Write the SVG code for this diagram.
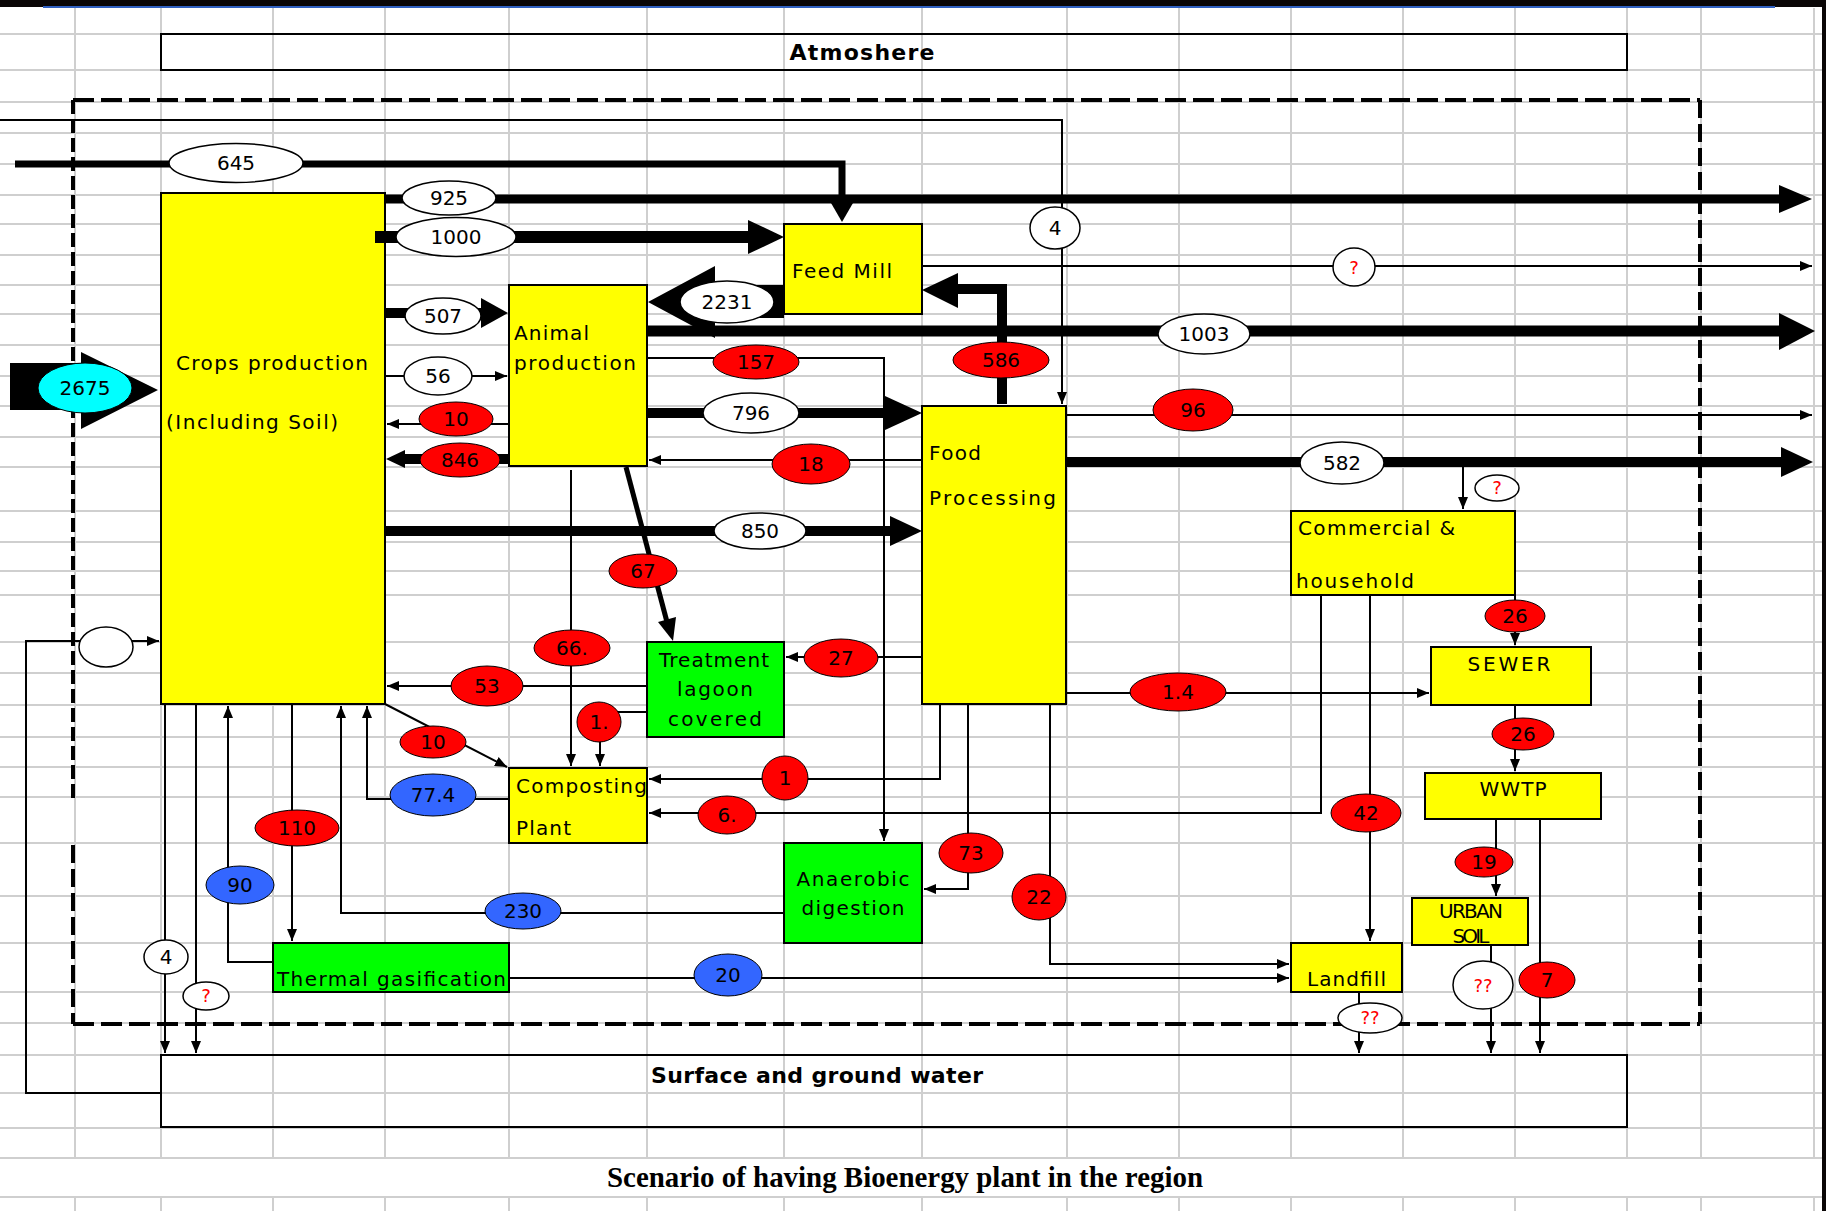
<svg xmlns="http://www.w3.org/2000/svg" width="1826" height="1211" viewBox="0 0 1826 1211">
  <style>
    .grid line { stroke: #cfcfcf; stroke-width: 2; }
    .box { stroke: #000; stroke-width: 2; }
    .y { fill: #ffff00; }
    .g { fill: #00ff00; }
    .frame { fill: none; stroke: #000; stroke-width: 2; }
    .t { font-family: "DejaVu Sans", "Liberation Sans", sans-serif; font-size: 20px; fill: #000; }
    .tb { font-family: "DejaVu Sans", "Liberation Sans", sans-serif; font-size: 22px; font-weight: bold; fill: #000; }
    .c { text-anchor: middle; }
    .ln { fill: none; stroke: #000; stroke-width: 2; }
    .thin { marker-end: url(#ah); }
    .thick { fill: none; stroke: #000; }
    .head { fill: #000; }
    .lw { fill: #fff; stroke: #000; stroke-width: 1.5; }
    .lr { fill: #ff0000; stroke: #000; stroke-width: 1; }
    .lb { fill: #3366ff; stroke: #000; stroke-width: 1; }
    .lc { fill: #00ffff; stroke: #000; stroke-width: 1; }
    .n { font-family: "DejaVu Sans", "Liberation Sans", sans-serif; font-size: 20px; fill: #000; text-anchor: middle; }
    .q { fill: #ff0000; font-size: 18px; }
    .dash { fill: none; stroke: #000; stroke-width: 4; }
  </style>
  <defs>
    <marker id="ah" markerUnits="userSpaceOnUse" markerWidth="12" markerHeight="10" refX="12" refY="5" orient="auto">
      <path d="M0,0 L12,5 L0,10 z" fill="#000"/>
    </marker>
  </defs>

  <!-- page background and worksheet grid -->
  <rect x="0" y="0" width="1826" height="1211" fill="#fff"/>
  <g class="grid">
    <line x1="75" y1="8" x2="75" y2="1158"/><line x1="161" y1="8" x2="161" y2="1158"/>
    <line x1="273" y1="8" x2="273" y2="1158"/><line x1="385" y1="8" x2="385" y2="1158"/>
    <line x1="509" y1="8" x2="509" y2="1158"/><line x1="647" y1="8" x2="647" y2="1158"/>
    <line x1="784" y1="8" x2="784" y2="1158"/><line x1="922" y1="8" x2="922" y2="1158"/>
    <line x1="1067" y1="8" x2="1067" y2="1158"/><line x1="1179" y1="8" x2="1179" y2="1158"/>
    <line x1="1291" y1="8" x2="1291" y2="1158"/><line x1="1403" y1="8" x2="1403" y2="1158"/>
    <line x1="1515" y1="8" x2="1515" y2="1158"/><line x1="1627" y1="8" x2="1627" y2="1158"/>
    <line x1="1701" y1="8" x2="1701" y2="1158"/><line x1="1814" y1="8" x2="1814" y2="1158"/>
    <line x1="75" y1="1197" x2="75" y2="1211"/><line x1="161" y1="1197" x2="161" y2="1211"/>
    <line x1="273" y1="1197" x2="273" y2="1211"/><line x1="385" y1="1197" x2="385" y2="1211"/>
    <line x1="509" y1="1197" x2="509" y2="1211"/><line x1="647" y1="1197" x2="647" y2="1211"/>
    <line x1="784" y1="1197" x2="784" y2="1211"/><line x1="922" y1="1197" x2="922" y2="1211"/>
    <line x1="1067" y1="1197" x2="1067" y2="1211"/><line x1="1179" y1="1197" x2="1179" y2="1211"/>
    <line x1="1291" y1="1197" x2="1291" y2="1211"/><line x1="1403" y1="1197" x2="1403" y2="1211"/>
    <line x1="1515" y1="1197" x2="1515" y2="1211"/><line x1="1627" y1="1197" x2="1627" y2="1211"/>
    <line x1="1701" y1="1197" x2="1701" y2="1211"/><line x1="1814" y1="1197" x2="1814" y2="1211"/>
    <line x1="0" y1="34" x2="1826" y2="34"/><line x1="0" y1="70" x2="1826" y2="70"/>
    <line x1="0" y1="102" x2="1826" y2="102"/><line x1="0" y1="133" x2="1826" y2="133"/>
    <line x1="0" y1="164" x2="1826" y2="164"/><line x1="0" y1="195" x2="1826" y2="195"/>
    <line x1="0" y1="224" x2="1826" y2="224"/><line x1="0" y1="255" x2="1826" y2="255"/>
    <line x1="0" y1="285" x2="1826" y2="285"/><line x1="0" y1="314" x2="1826" y2="314"/>
    <line x1="0" y1="345" x2="1826" y2="345"/><line x1="0" y1="376" x2="1826" y2="376"/>
    <line x1="0" y1="406" x2="1826" y2="406"/><line x1="0" y1="437" x2="1826" y2="437"/>
    <line x1="0" y1="467" x2="1826" y2="467"/><line x1="0" y1="511" x2="1826" y2="511"/>
    <line x1="0" y1="542" x2="1826" y2="542"/><line x1="0" y1="571" x2="1826" y2="571"/>
    <line x1="0" y1="595" x2="1826" y2="595"/><line x1="0" y1="642" x2="1826" y2="642"/>
    <line x1="0" y1="673" x2="1826" y2="673"/><line x1="0" y1="705" x2="1826" y2="705"/>
    <line x1="0" y1="737" x2="1826" y2="737"/><line x1="0" y1="767" x2="1826" y2="767"/>
    <line x1="0" y1="797" x2="1826" y2="797"/><line x1="0" y1="843" x2="1826" y2="843"/>
    <line x1="0" y1="896" x2="1826" y2="896"/><line x1="0" y1="943" x2="1826" y2="943"/>
    <line x1="0" y1="992" x2="1826" y2="992"/><line x1="0" y1="1023" x2="1826" y2="1023"/>
    <line x1="0" y1="1055" x2="1826" y2="1055"/><line x1="0" y1="1093" x2="1826" y2="1093"/>
    <line x1="0" y1="1128" x2="1826" y2="1128"/><line x1="0" y1="1158" x2="1826" y2="1158"/>
    <line x1="0" y1="1197" x2="1826" y2="1197"/>
  </g>

  <!-- window edge -->
  <rect x="0" y="0" width="1826" height="7" fill="#0a0606"/>
  <rect x="43" y="6" width="1732" height="2" fill="#3060c0"/>
  <rect x="1822" y="0" width="4" height="1211" fill="#0a0606"/>

  <!-- system boundary (dashed) -->
  <g id="boundary">
    <line class="dash" x1="73" y1="100" x2="1700" y2="100" stroke-dasharray="21 7"/>
    <line class="dash" x1="73" y1="1024" x2="1700" y2="1024" stroke-dasharray="21 7"/>
    <line class="dash" x1="1700" y1="100" x2="1700" y2="1024" stroke-dasharray="18 6"/>
    <line class="dash" x1="73" y1="100" x2="73" y2="798" stroke-dasharray="14 5"/>
    <line class="dash" x1="73" y1="845" x2="73" y2="1024" stroke-dasharray="18 6"/>
  </g>

  <!-- nodes -->
  <g id="atmosphere">
    <rect class="frame" x="161" y="34" width="1466" height="36"/>
    <text class="tb c" x="862" y="60" font-size="23" textLength="145">Atmoshere</text>
  </g>
  <g id="water">
    <rect class="frame" x="161" y="1055" width="1466" height="72"/>
    <text class="tb" x="651" y="1083" textLength="332">Surface and ground water</text>
  </g>
  <g id="input-2675">
    <polygon points="10,363 81,363 81,352 158,390 81,429 81,410 10,410" fill="#000"/>
    <ellipse class="lc" cx="85" cy="388" rx="47" ry="25"/>
    <text class="n" x="85" y="395">2675</text>
  </g>
  <g id="crops">
    <rect class="box y" x="161" y="193" width="224" height="511"/>
    <text class="t" x="176" y="370" textLength="192">Crops production</text>
    <text class="t" x="166" y="429" textLength="172">(Including Soil)</text>
  </g>
  <g id="feed-mill">
    <rect class="box y" x="784" y="224" width="138" height="90"/>
    <text class="t" x="792" y="278" textLength="100">Feed Mill</text>
  </g>
  <g id="animal">
    <rect class="box y" x="509" y="285" width="138" height="181"/>
    <text class="t" x="514" y="340" textLength="75">Animal</text>
    <text class="t" x="514" y="370" textLength="122">production</text>
  </g>
  <g id="food">
    <rect class="box y" x="922" y="406" width="144" height="298"/>
    <text class="t" x="929" y="460" textLength="52">Food</text>
    <text class="t" x="929" y="505" textLength="127">Processing</text>
  </g>
  <g id="lagoon">
    <rect class="box g" x="647" y="642" width="137" height="95"/>
    <text class="t c" x="714" y="667" textLength="110">Treatment</text>
    <text class="t c" x="715" y="696" textLength="76">lagoon</text>
    <text class="t c" x="715" y="726" textLength="94">covered</text>
  </g>
  <g id="composting">
    <rect class="box y" x="509" y="768" width="138" height="75"/>
    <text class="t" x="516" y="793" textLength="131">Composting</text>
    <text class="t" x="516" y="835" textLength="55">Plant</text>
  </g>
  <g id="anaerobic">
    <rect class="box g" x="784" y="843" width="138" height="100"/>
    <text class="t c" x="853" y="886" textLength="113">Anaerobic</text>
    <text class="t c" x="853" y="915" textLength="103">digestion</text>
  </g>
  <g id="thermal">
    <rect class="box g" x="273" y="943" width="236" height="49"/>
    <text class="t" x="277" y="986" textLength="229">Thermal gasification</text>
  </g>
  <g id="commercial">
    <rect class="box y" x="1291" y="511" width="224" height="84"/>
    <text class="t" x="1298" y="535" textLength="157">Commercial &amp;</text>
    <text class="t" x="1296" y="588" textLength="118">household</text>
  </g>
  <g id="sewer">
    <rect class="box y" x="1431" y="647" width="160" height="58"/>
    <text class="t c" x="1509" y="671" textLength="83">SEWER</text>
  </g>
  <g id="wwtp">
    <rect class="box y" x="1425" y="773" width="176" height="46"/>
    <text class="t c" x="1513" y="796" textLength="67">WWTP</text>
  </g>
  <g id="urban-soil">
    <rect class="box y" x="1412" y="898" width="116" height="47"/>
    <text class="t c" x="1471" y="918" font-size="16" textLength="64">URBAN</text>
    <text class="t c" x="1471" y="943" font-size="16" textLength="37">SOIL</text>
  </g>
  <g id="landfill">
    <rect class="box y" x="1291" y="943" width="111" height="49"/>
    <text class="t" x="1307" y="986" textLength="79">Landfill</text>
  </g>

  <!-- flows -->
  <g id="connectors">
    <!-- thick flows -->
    <path class="thick" d="M15,164 H842 V205" stroke-width="7"/>
    <polygon class="head" points="831,203 853,203 842,222"/>
    <path class="thick" d="M385,199 H1782" stroke-width="9"/>
    <polygon class="head" points="1779,185 1812,199 1779,213"/>
    <path class="thick" d="M375,237 H750" stroke-width="12"/>
    <polygon class="head" points="748,220 784,237 748,254"/>
    <polygon class="head" points="648,302 715,266 715,285 784,285 784,318 715,318 715,338"/>
    <path class="thick" d="M1002,404 V289 H955" stroke-width="10"/>
    <polygon class="head" points="958,273 922,290 958,308"/>
    <path class="thick" d="M647,331 H1782" stroke-width="11"/>
    <polygon class="head" points="1779,313 1815,331 1779,350"/>
    <path class="thick" d="M385,313 H483" stroke-width="10"/>
    <polygon class="head" points="481,298 508,313 481,328"/>
    <path class="thick" d="M509,459 H402" stroke-width="10"/>
    <polygon class="head" points="405,450 386,459 405,468"/>
    <path class="thick" d="M647,413 H888" stroke-width="10"/>
    <polygon class="head" points="885,396 922,413 885,430"/>
    <path class="thick" d="M385,531 H893" stroke-width="10"/>
    <polygon class="head" points="890,516 922,531 890,546"/>
    <path class="thick" d="M1066,462 H1784" stroke-width="10"/>
    <polygon class="head" points="1781,447 1813,462 1781,477"/>
    <path class="thick" d="M626,467 L667,622" stroke-width="5"/>
    <polygon class="head" points="658,622 676,617 673,641"/>

    <!-- thin flows -->
    <path class="ln thin" d="M0,120 H1062 V404"/>
    <path class="ln thin" d="M922,266 H1812"/>
    <path class="ln thin" d="M385,376 H507"/>
    <path class="ln thin" d="M509,424 H387"/>
    <path class="ln thin" d="M922,460 H649"/>
    <path class="ln thin" d="M647,358 H884 V841"/>
    <path class="ln thin" d="M571,470 V766"/>
    <path class="ln thin" d="M647,712 H600 V766"/>
    <path class="ln thin" d="M647,686 H387"/>
    <path class="ln thin" d="M922,657 H786" stroke-width="3.5"/>
    <path class="ln thin" d="M385,704 L507,767"/>
    <path class="ln thin" d="M509,799 H367 V706"/>
    <path class="ln thin" d="M940,704 V779 H649"/>
    <path class="ln thin" d="M1321,595 V813 H649"/>
    <path class="ln thin" d="M968,704 V889 H924"/>
    <path class="ln thin" d="M1050,704 V964 H1289"/>
    <path class="ln thin" d="M784,913 H341 V706"/>
    <path class="ln thin" d="M292,704 V941"/>
    <path class="ln thin" d="M273,962 H228 V706"/>
    <path class="ln thin" d="M509,978 H1289"/>
    <path class="ln thin" d="M165,704 V1053"/>
    <path class="ln thin" d="M196,704 V1053"/>
    <path class="ln thin" d="M161,1093 H26 V641 H159"/>
    <path class="ln thin" d="M1066,693 H1429"/>
    <path class="ln thin" d="M1066,415 H1812"/>
    <path class="ln thin" d="M1463,462 V509"/>
    <path class="ln thin" d="M1515,595 V645"/>
    <path class="ln thin" d="M1515,705 V771"/>
    <path class="ln thin" d="M1370,595 V941"/>
    <path class="ln thin" d="M1496,819 V896"/>
    <path class="ln thin" d="M1359,992 V1053"/>
    <path class="ln thin" d="M1491,945 V1053"/>
    <path class="ln thin" d="M1540,819 V1053"/>

    <!-- flow quantities -->
    <ellipse class="lw" cx="236" cy="163" rx="67" ry="19.5"/><text class="n" x="236" y="170">645</text>
    <ellipse class="lw" cx="449" cy="198" rx="47" ry="17"/><text class="n" x="449" y="205">925</text>
    <ellipse class="lw" cx="456" cy="237" rx="60" ry="19.5"/><text class="n" x="456" y="244">1000</text>
    <ellipse class="lw" cx="727" cy="302" rx="47" ry="21"/><text class="n" x="727" y="309">2231</text>
    <ellipse class="lr" cx="1001" cy="360" rx="48" ry="18"/><text class="n" x="1001" y="367">586</text>
    <ellipse class="lw" cx="1204" cy="334" rx="46" ry="20"/><text class="n" x="1204" y="341">1003</text>
    <ellipse class="lw" cx="443" cy="316" rx="38" ry="18"/><text class="n" x="443" y="323">507</text>
    <ellipse class="lr" cx="460" cy="460" rx="40" ry="17"/><text class="n" x="460" y="467">846</text>
    <ellipse class="lw" cx="751" cy="413" rx="48" ry="20"/><text class="n" x="751" y="420">796</text>
    <ellipse class="lw" cx="760" cy="531" rx="46" ry="18"/><text class="n" x="760" y="538">850</text>
    <ellipse class="lw" cx="1342" cy="463" rx="42" ry="21"/><text class="n" x="1342" y="470">582</text>
    <ellipse class="lr" cx="643" cy="571" rx="34" ry="17"/><text class="n" x="643" y="578">67</text>

    <ellipse class="lw" cx="1055" cy="228" rx="25" ry="21"/><text class="n" x="1055" y="235">4</text>
    <ellipse class="lw" cx="1354" cy="267" rx="21" ry="19"/><text class="n q" x="1354" y="274">?</text>
    <ellipse class="lw" cx="438" cy="376" rx="34" ry="19"/><text class="n" x="438" y="383">56</text>
    <ellipse class="lr" cx="456" cy="419" rx="37" ry="17"/><text class="n" x="456" y="426">10</text>
    <ellipse class="lr" cx="811" cy="464" rx="39" ry="20"/><text class="n" x="811" y="471">18</text>
    <ellipse class="lr" cx="756" cy="362" rx="43" ry="17"/><text class="n" x="756" y="369">157</text>
    <ellipse class="lr" cx="572" cy="648" rx="38" ry="18"/><text class="n" x="572" y="655">66.</text>
    <ellipse class="lr" cx="599" cy="722" rx="22" ry="20"/><text class="n" x="599" y="729">1.</text>
    <ellipse class="lr" cx="487" cy="686" rx="36" ry="20"/><text class="n" x="487" y="693">53</text>
    <ellipse class="lr" cx="841" cy="658" rx="37" ry="19"/><text class="n" x="841" y="665">27</text>
    <ellipse class="lr" cx="433" cy="742" rx="33" ry="16"/><text class="n" x="433" y="749">10</text>
    <ellipse class="lb" cx="433" cy="795" rx="43" ry="21"/><text class="n" x="433" y="802">77.4</text>
    <ellipse class="lr" cx="785" cy="778" rx="23" ry="22"/><text class="n" x="785" y="785">1</text>
    <ellipse class="lr" cx="727" cy="815" rx="29" ry="19"/><text class="n" x="727" y="822">6.</text>
    <ellipse class="lr" cx="971" cy="853" rx="32" ry="20"/><text class="n" x="971" y="860">73</text>
    <ellipse class="lr" cx="1039" cy="897" rx="27" ry="23"/><text class="n" x="1039" y="904">22</text>
    <ellipse class="lb" cx="523" cy="911" rx="38" ry="18"/><text class="n" x="523" y="918">230</text>
    <ellipse class="lr" cx="297" cy="828" rx="42" ry="18"/><text class="n" x="297" y="835">110</text>
    <ellipse class="lb" cx="240" cy="885" rx="34" ry="19"/><text class="n" x="240" y="892">90</text>
    <ellipse class="lb" cx="728" cy="975" rx="34" ry="21"/><text class="n" x="728" y="982">20</text>
    <ellipse class="lw" cx="166" cy="957" rx="22" ry="17"/><text class="n" x="166" y="964">4</text>
    <ellipse class="lw" cx="206" cy="996" rx="23" ry="14"/><text class="n q" x="206" y="1002">?</text>
    <ellipse class="lw" cx="106" cy="647" rx="27" ry="20"/>
    <ellipse class="lr" cx="1178" cy="692" rx="48" ry="19"/><text class="n" x="1178" y="699">1.4</text>
    <ellipse class="lr" cx="1193" cy="410" rx="40" ry="21"/><text class="n" x="1193" y="417">96</text>
    <ellipse class="lw" cx="1497" cy="488" rx="22" ry="13"/><text class="n q" x="1497" y="494">?</text>
    <ellipse class="lr" cx="1515" cy="616" rx="30" ry="16"/><text class="n" x="1515" y="623">26</text>
    <ellipse class="lr" cx="1523" cy="734" rx="31" ry="16"/><text class="n" x="1523" y="741">26</text>
    <ellipse class="lr" cx="1366" cy="813" rx="35" ry="19"/><text class="n" x="1366" y="820">42</text>
    <ellipse class="lr" cx="1484" cy="862" rx="29" ry="15"/><text class="n" x="1484" y="869">19</text>
    <ellipse class="lw" cx="1370" cy="1018" rx="32" ry="15"/><text class="n q" x="1370" y="1024">??</text>
    <ellipse class="lw" cx="1483" cy="985" rx="30" ry="24"/><text class="n q" x="1483" y="992">??</text>
    <ellipse class="lr" cx="1547" cy="980" rx="28" ry="18"/><text class="n" x="1547" y="987">7</text>
  </g>

  <text x="905" y="1187" text-anchor="middle" font-family="'Liberation Serif', 'Times New Roman', serif" font-size="29" font-weight="bold" textLength="596" lengthAdjust="spacingAndGlyphs">Scenario of having Bioenergy plant in the region</text>
</svg>
